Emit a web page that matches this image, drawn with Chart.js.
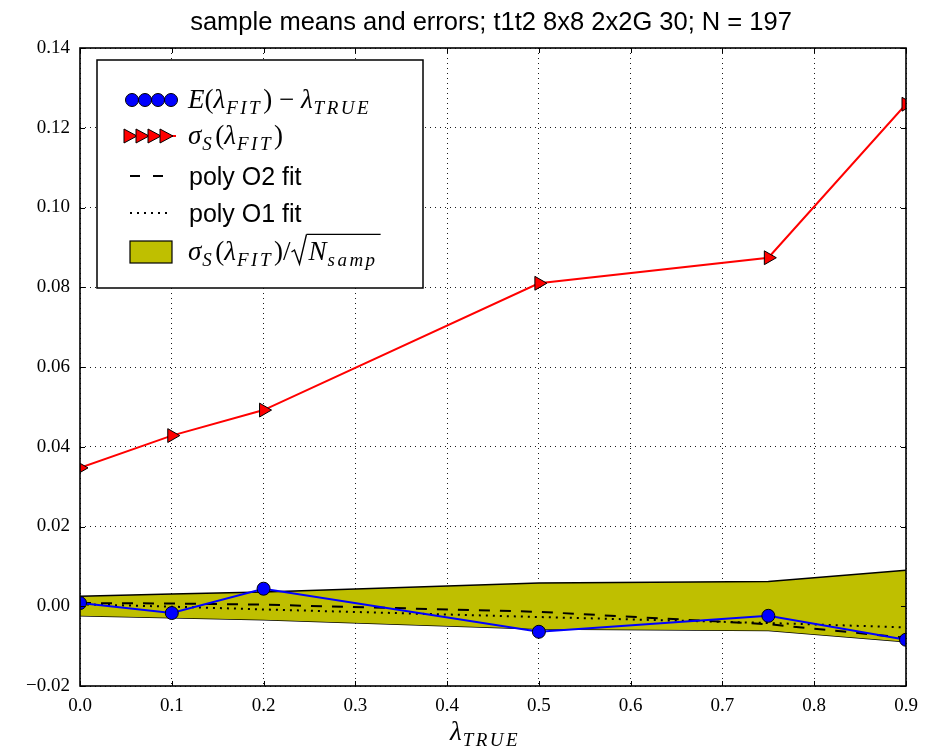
<!DOCTYPE html>
<html>
<head>
<meta charset="utf-8">
<script src="https://cdn.jsdelivr.net/npm/chart.js@4.4.0/dist/chart.umd.min.js"></script>
<style>
  html, body { margin: 0; padding: 0; background: #fff; }
</style>
</head>
<body>
<canvas id="chart" width="933" height="747"></canvas>
<script>
// ── Data ───────────────────────────────────────────────
const lambdaTrue = [0.0, 0.1, 0.2, 0.5, 0.75, 0.9];
const meanErr    = [0.0008, -0.0017, 0.0044, -0.0064, -0.0024, -0.0084];
const sigmaS     = [0.0347, 0.0428, 0.0492, 0.0810, 0.0874, 0.1259];
const bandUpper  = [0.0025, 0.0031, 0.0036, 0.0058, 0.0062, 0.0090];
const bandLower  = [-0.0024, -0.0029, -0.0034, -0.0057, -0.0061, -0.0089];
const polyO2     = [0.0008, 0.0007, 0.0004, -0.0014, -0.0045, -0.0079];
const polyO1     = [0.0005, -0.0001, -0.0008, -0.0027, -0.0042, -0.0053];
const xTicks     = [0.0, 0.1, 0.2, 0.3, 0.4, 0.5, 0.6, 0.7, 0.8, 0.9];
const yTicks     = [-0.02, 0.00, 0.02, 0.04, 0.06, 0.08, 0.10, 0.12, 0.14];

const TITLE = 'sample means and errors; t1t2 8x8 2x2G 30; N = 197';

const BLUE = '#0000ff', RED = '#ff0000', OLIVE = '#bfbf00';
const SERIF = '"Liberation Serif", "DejaVu Serif", serif';
const SANS  = '"Liberation Sans", Arial, sans-serif';

const pts = arr => lambdaTrue.map((x, i) => ({ x, y: arr[i] }));

// draws a run of math-ish text pieces; returns end x
function drawMath(ctx, x, y, parts, size) {
  let cx = x;
  parts.forEach(([t, k]) => {
    if (k === 's') {
      ctx.font = 'italic ' + Math.round(size * 0.72) + 'px ' + SERIF;
      ctx.letterSpacing = '2.5px';
      ctx.fillText(t, cx + 1, y + size * 0.24);
      cx += ctx.measureText(t).width + 2;
      ctx.letterSpacing = '0px';
    } else {
      ctx.font = (k === 'i' ? 'italic ' : '') + size + 'px ' + SERIF;
      ctx.fillText(t, cx, y);
      cx += ctx.measureText(t).width;
    }
  });
  return cx;
}

function seg(ctx, x1, y1, x2, y2) {
  ctx.beginPath(); ctx.moveTo(x1, y1); ctx.lineTo(x2, y2); ctx.stroke();
}

const overlay = {
  id: 'overlay',
  afterDraw(chart) {
    const { ctx, chartArea: a, scales: { x, y } } = chart;
    ctx.save();
    ctx.fillStyle = '#000';
    ctx.strokeStyle = '#000';

    // inward tick marks on all four sides
    ctx.lineWidth = 1;
    xTicks.forEach(v => {
      const px = Math.round(x.getPixelForValue(v)) + 0.5;
      seg(ctx, px, a.bottom, px, a.bottom - 5);
      seg(ctx, px, a.top, px, a.top + 5);
    });
    yTicks.forEach(v => {
      const py = Math.round(y.getPixelForValue(v)) + 0.5;
      seg(ctx, a.left, py, a.left + 5, py);
      seg(ctx, a.right, py, a.right - 5, py);
    });

    // frame
    ctx.lineWidth = 1.6;
    ctx.strokeRect(a.left, a.top, a.right - a.left, a.bottom - a.top);

    // title
    ctx.font = '25.5px ' + SANS;
    ctx.textAlign = 'center';
    ctx.textBaseline = 'alphabetic';
    ctx.fillText(TITLE, 491, 30);

    // x axis label
    ctx.textAlign = 'left';
    drawMath(ctx, 450, 740, [['λ', 'i'], ['TRUE', 's']], 27);

    // legend box
    const L = { x: 97, y: 60, w: 326, h: 228 };
    ctx.fillStyle = '#fff';
    ctx.fillRect(L.x, L.y, L.w, L.h);
    ctx.lineWidth = 1.5;
    ctx.strokeRect(L.x, L.y, L.w, L.h);
    ctx.fillStyle = '#000';

    const rows = [100, 136, 176, 213, 252];
    const sx0 = 126, sx1 = 176, tx = 188, fs = 27;

    // 1: blue circles
    ctx.strokeStyle = BLUE; ctx.lineWidth = 2;
    seg(ctx, sx0, rows[0], sx1, rows[0]);
    [132, 145, 158, 171].forEach(cx => {
      ctx.beginPath(); ctx.arc(cx, rows[0], 6.5, 0, Math.PI * 2);
      ctx.fillStyle = BLUE; ctx.fill();
      ctx.strokeStyle = '#000'; ctx.lineWidth = 1; ctx.stroke();
    });
    ctx.fillStyle = '#000';
    drawMath(ctx, tx, rows[0] + 8, [['E', 'i'], ['(', 'r'], ['λ', 'i'], ['FIT', 's'], [')', 'r'],
      [' − ', 'r'], ['λ', 'i'], ['TRUE', 's']], fs);

    // 2: red triangles
    ctx.strokeStyle = RED; ctx.lineWidth = 2;
    seg(ctx, sx0, rows[1], sx1, rows[1]);
    [130, 142, 154, 166].forEach(cx => {
      ctx.beginPath();
      ctx.moveTo(cx - 6, rows[1] - 7); ctx.lineTo(cx + 7, rows[1]); ctx.lineTo(cx - 6, rows[1] + 7);
      ctx.closePath();
      ctx.fillStyle = RED; ctx.fill();
      ctx.strokeStyle = '#000'; ctx.lineWidth = 1; ctx.stroke();
    });
    ctx.fillStyle = '#000';
    drawMath(ctx, tx, rows[1] + 8, [['σ', 'i'], ['S', 's'], ['(', 'r'], ['λ', 'i'], ['FIT', 's'], [')', 'r']], fs);

    // 3 & 4: fit lines
    ctx.strokeStyle = '#000'; ctx.lineWidth = 2;
    ctx.setLineDash([10, 13]);
    seg(ctx, 130, rows[2], 165, rows[2]);
    ctx.setLineDash([2, 5]);
    seg(ctx, 130, rows[3], 172, rows[3]);
    ctx.setLineDash([]);
    ctx.font = '25px ' + SANS;
    ctx.fillText('poly O2 fit', tx + 1, rows[2] + 9);
    ctx.fillText('poly O1 fit', tx + 1, rows[3] + 9);

    // 5: band patch
    ctx.fillStyle = OLIVE;
    ctx.fillRect(130, rows[4] - 11, 42, 22);
    ctx.lineWidth = 1.2;
    ctx.strokeRect(130, rows[4] - 11, 42, 22);
    ctx.fillStyle = '#000';
    const bx = rows[4] + 8;
    let cx = drawMath(ctx, tx, bx, [['σ', 'i'], ['S', 's'], ['(', 'r'], ['λ', 'i'], ['FIT', 's'], [')', 'r'], ['/', 'r']], fs);
    // radical sign
    ctx.lineWidth = 1.4;
    ctx.beginPath();
    ctx.moveTo(cx + 1, bx - 8); ctx.lineTo(cx + 4, bx - 10); ctx.lineTo(cx + 9, bx + 4);
    ctx.lineTo(cx + 16, bx - fs * 0.95);
    ctx.stroke();
    const ox = cx + 16;
    cx = drawMath(ctx, ox + 2, bx, [['N', 'i'], ['samp', 's']], fs);
    ctx.lineWidth = 1.2;
    seg(ctx, ox, bx - fs * 0.95, cx + 2, bx - fs * 0.95);

    ctx.restore();
  }
};

new Chart(document.getElementById('chart'), {
  type: 'line',
  data: {
    datasets: [
      {
        label: 'sigmaS', data: pts(sigmaS), order: 0,
        borderColor: RED, borderWidth: 2, backgroundColor: RED,
        pointStyle: 'triangle', rotation: 90, pointRadius: 8,
        pointBorderColor: '#000', pointBorderWidth: 1, fill: false
      },
      {
        label: 'meanErr', data: pts(meanErr), order: 1,
        borderColor: BLUE, borderWidth: 2, backgroundColor: BLUE,
        pointStyle: 'circle', pointRadius: 6.5,
        pointBorderColor: '#000', pointBorderWidth: 1, fill: false
      },
      {
        label: 'polyO2', data: pts(polyO2), order: 2,
        borderColor: '#000', borderWidth: 2, borderDash: [11, 10],
        pointRadius: 0, fill: false
      },
      {
        label: 'polyO1', data: pts(polyO1), order: 3,
        borderColor: '#000', borderWidth: 2, borderDash: [2, 5],
        pointRadius: 0, fill: false
      },
      {
        label: 'bandUpper', data: pts(bandUpper), order: 4,
        borderColor: '#000', borderWidth: 1.5, backgroundColor: OLIVE,
        pointRadius: 0, fill: '+1'
      },
      {
        label: 'bandLower', data: pts(bandLower), order: 5,
        borderColor: '#000', borderWidth: 1.5,
        pointRadius: 0, fill: false
      }
    ]
  },
  options: {
    responsive: false,
    animation: false,
    events: [],
    layout: { padding: { top: 48, right: 27, left: 0, bottom: 0 } },
    plugins: { legend: { display: false }, tooltip: { enabled: false } },
    scales: {
      x: {
        type: 'linear', min: 0, max: 0.9,
        afterBuildTicks: s => { s.ticks = xTicks.map(v => ({ value: v })); },
        afterFit: s => { s.height = 61; },
        grid: { color: 'rgba(0,0,0,0.9)', lineWidth: 1, drawTicks: false },
        border: { display: false, dash: [1, 4] },
        ticks: {
          padding: 9, color: '#000', maxRotation: 0,
          font: { family: SERIF, size: 19 },
          callback: v => v.toFixed(1)
        }
      },
      y: {
        type: 'linear', min: -0.02, max: 0.14,
        afterBuildTicks: s => { s.ticks = yTicks.map(v => ({ value: v })); },
        afterFit: s => { s.width = 80; },
        grid: { color: 'rgba(0,0,0,0.9)', lineWidth: 1, drawTicks: false },
        border: { display: false, dash: [1, 4] },
        ticks: {
          padding: 10, color: '#000',
          font: { family: SERIF, size: 19 },
          callback: v => Math.abs(v) < 1e-9 ? '0.00' : (v < 0 ? '−' : '') + Math.abs(v).toFixed(2)
        }
      }
    }
  },
  plugins: [overlay]
});
</script>
</body>
</html>
